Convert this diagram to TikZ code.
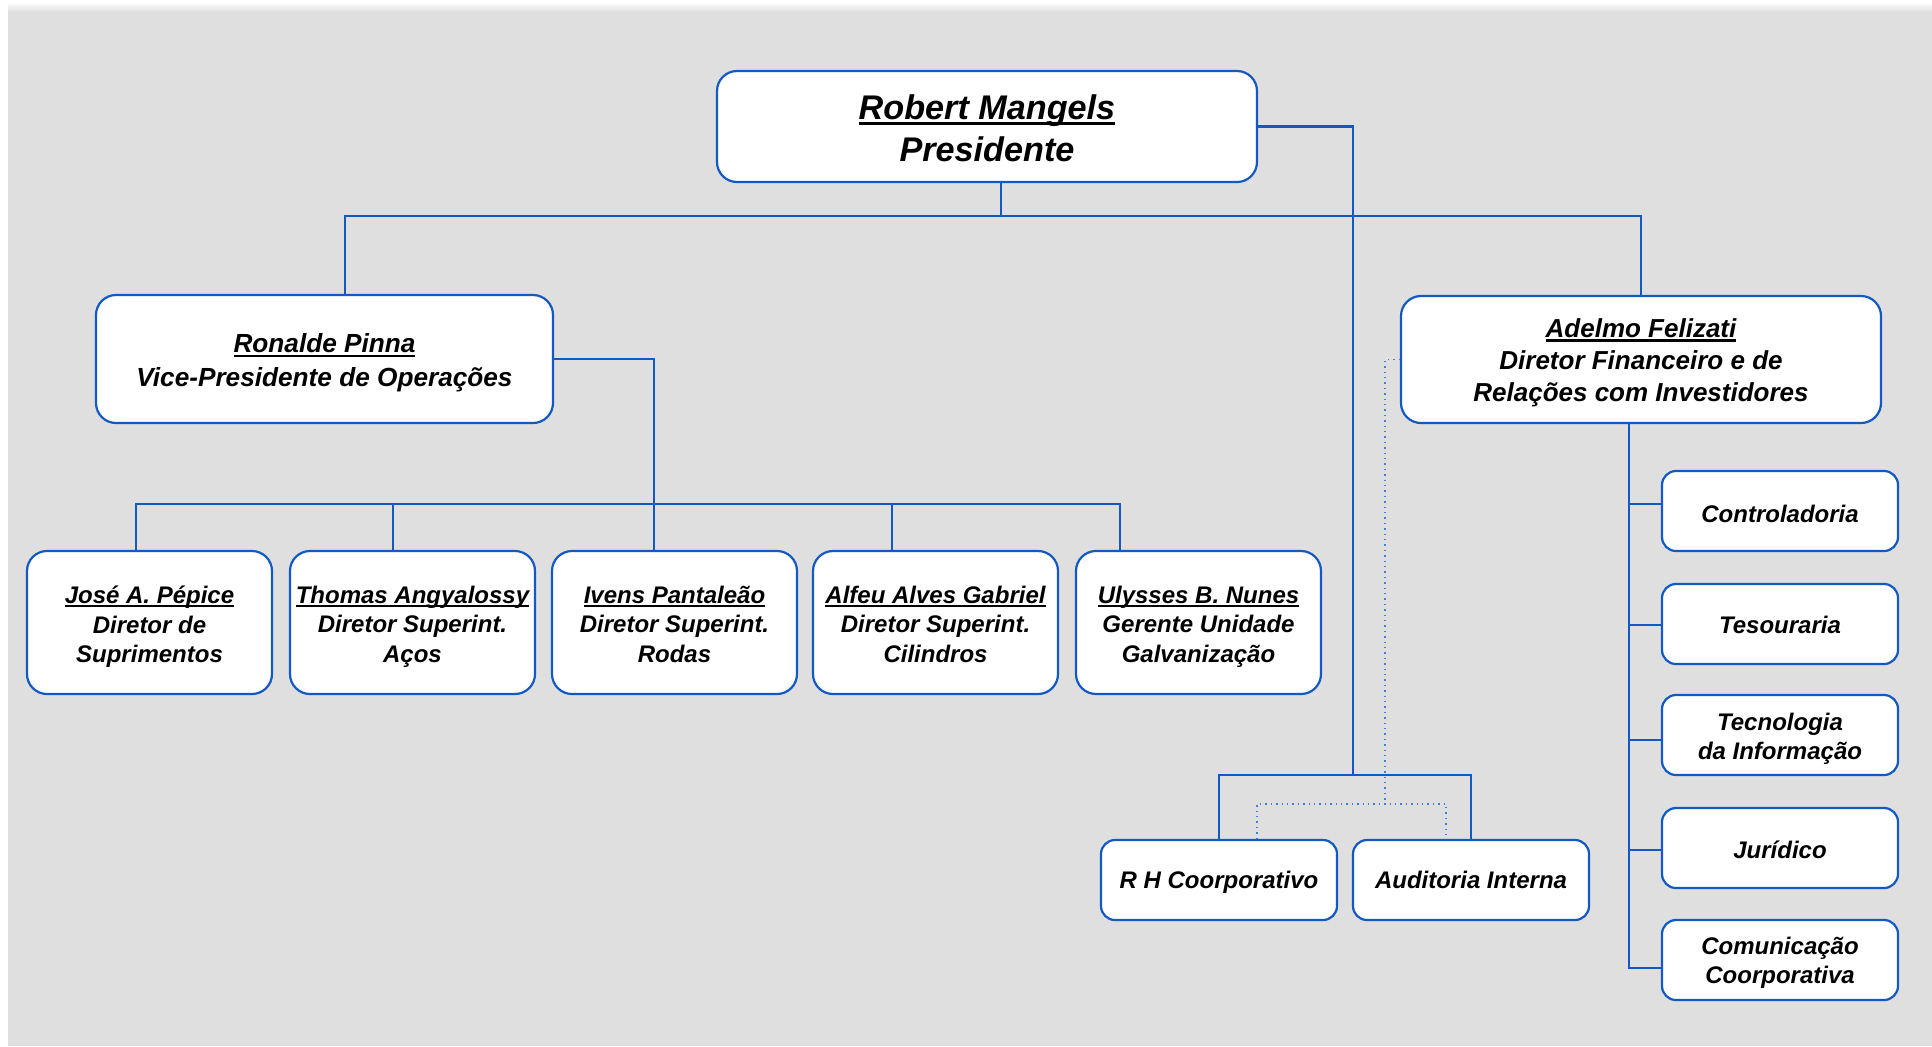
\documentclass[tikz,border=0pt]{standalone}
\usepackage{fontspec}
\setmainfont{Liberation Sans}
\definecolor{bgc}{HTML}{DFDFDF}
\definecolor{lnc}{HTML}{1259C3}
\definecolor{dtc}{HTML}{3D7FE0}
\newcommand{\nm}[1]{\setbox0\hbox{#1}\rlap{\rule[-0.16em]{\wd0}{0.085em}}\box0}
\tikzset{
  base/.style={draw=lnc, line width=1.1pt, fill=white, inner sep=0pt},
  bigbox/.style={base, rounded corners=10pt},
  midbox/.style={base, rounded corners=10pt, minimum width=122.5pt, minimum height=71.5pt},
  smallbox/.style={base, rounded corners=7pt, minimum width=118pt, minimum height=40pt},
  txt/.style={align=center, inner sep=0pt},
  tpres/.style={txt, font=\bfseries\itshape\fontsize{17.1}{21}\selectfont},
  tvp/.style={txt, font=\bfseries\itshape\fontsize{13.1}{17}\selectfont},
  tadel/.style={txt, font=\bfseries\itshape\fontsize{13}{16}\selectfont},
  tmid/.style={txt, font=\bfseries\itshape\fontsize{12}{14.8}\selectfont},
  tsmall/.style={txt, font=\bfseries\itshape\fontsize{12}{14.5}\selectfont},
  conn/.style={draw=lnc, line width=1.1pt},
  dotc/.style={draw=dtc, line width=0.7pt, dotted}
}
\begin{document}
\begin{tikzpicture}[x=0.5pt, y=-0.5pt]
\useasboundingbox (0,0) rectangle (1932,1046);
\fill[white] (0,0) rectangle (1932,1046);
\fill[bgc] (8,9) rectangle (1932,1046);
\shade[top color=white, bottom color=bgc] (8,2) rectangle (1932,12);

% top level
\node[bigbox, minimum width=270pt, minimum height=55.5pt, label={[tpres, yshift=-1pt]center:{\nm{Robert Mangels}\\Presidente}}] (pres) at (987,126.5) {};
\node[bigbox, minimum width=228.5pt, minimum height=64pt, label={[tvp, yshift=-2.1pt]center:{\nm{Ronalde Pinna}\\Vice-Presidente de Operações}}] (vpo) at (324.5,359) {};
\node[bigbox, minimum width=240pt, minimum height=63.5pt, label={[tadel, yshift=-1.6pt]center:{\nm{Adelmo Felizati}\\Diretor Financeiro e de\\Relações com Investidores}}] (adel) at (1641,359.5) {};

% operations directors
\node[midbox, label={[tmid, yshift=-2.1pt]center:{\nm{José A. Pépice}\\Diretor de\\Suprimentos}}] (d1) at (149.5,622.5) {};
\node[midbox, label={[tmid, yshift=-2.1pt]center:{\nm{Thomas Angyalossy}\\Diretor Superint.\\Aços}}] (d2) at (412.5,622.5) {};
\node[midbox, label={[tmid, yshift=-0.9pt]center:{\nm{Ivens Pantaleão}\\Diretor Superint.\\Rodas}}] (d3) at (674.5,622.5) {};
\node[midbox, label={[tmid, yshift=-0.9pt]center:{\nm{Alfeu Alves Gabriel}\\Diretor Superint.\\Cilindros}}] (d4) at (935.5,622.5) {};
\node[midbox, label={[tmid, yshift=-2.1pt]center:{\nm{Ulysses B. Nunes}\\Gerente Unidade\\Galvanização}}] (d5) at (1198.5,622.5) {};

% financial departments
\node[smallbox, label={[tsmall, yshift=-1.25pt]center:{Controladoria}}] (c1) at (1780,511) {};
\node[smallbox, label={[tsmall, yshift=-0.7pt]center:{Tesouraria}}] (c2) at (1780,624) {};
\node[smallbox, label={[tsmall, yshift=-1.65pt]center:{Tecnologia\\da Informação}}] (c3) at (1780,735) {};
\node[smallbox, label={[tsmall, yshift=-0.7pt]center:{Jurídico}}] (c4) at (1780,848) {};
\node[smallbox, label={[tsmall, yshift=-1.6pt]center:{Comunicação\\Coorporativa}}] (c5) at (1780,960) {};

% staff
\node[smallbox, label={[tsmall, yshift=-0.9pt]center:{R H Coorporativo}}] (rh) at (1219,880) {};
\node[smallbox, label={[tsmall, yshift=-0.1pt]center:{Auditoria Interna}}] (aud) at (1471,880) {};

% connectors: president
\coordinate (b1) at (1001,216);
\draw[conn] ([xshift=7pt]pres.south) -- (b1);
\draw[conn] ([xshift=10.25pt]vpo.north) |- (b1) -| (adel.north);
\coordinate (b2) at (1353,775);
\draw[conn] (pres.east) -| (b2);
\draw[conn] (rh.north) |- (b2) -| (aud.north);

% connectors: VP operations
\coordinate (b3) at (654,504);
\draw[conn] (vpo.east) -| (b3);
\draw[conn] ([xshift=-6.75pt]d1.north) |- (b3) -| ([xshift=-39.25pt]d5.north);
\draw[conn] ([xshift=-9.75pt]d2.north) -- ++(0,-47);
\draw[conn] ([xshift=-10.25pt]d3.north) -- (b3);
\draw[conn] ([xshift=-21.75pt]d4.north) -- ++(0,-47);

% connectors: financial director
\coordinate (tr) at ([xshift=-6pt]adel.south);
\draw[conn] (tr) |- ([yshift=3.5pt]c1.west);
\draw[conn] (tr) |- ([yshift=-0.5pt]c2.west);
\draw[conn] (tr) |- ([yshift=-2.5pt]c3.west);
\draw[conn] (tr) |- ([yshift=-1pt]c4.west);
\draw[conn] (tr) |- ([yshift=-4pt]c5.west);

% dotted link
\coordinate (dd) at (1385,804);
\draw[dotc] (adel.west) -| (dd);
\draw[dotc] ([xshift=19pt]rh.north) |- (dd) -| ([xshift=-12.5pt]aud.north);
\end{tikzpicture}
\end{document}
